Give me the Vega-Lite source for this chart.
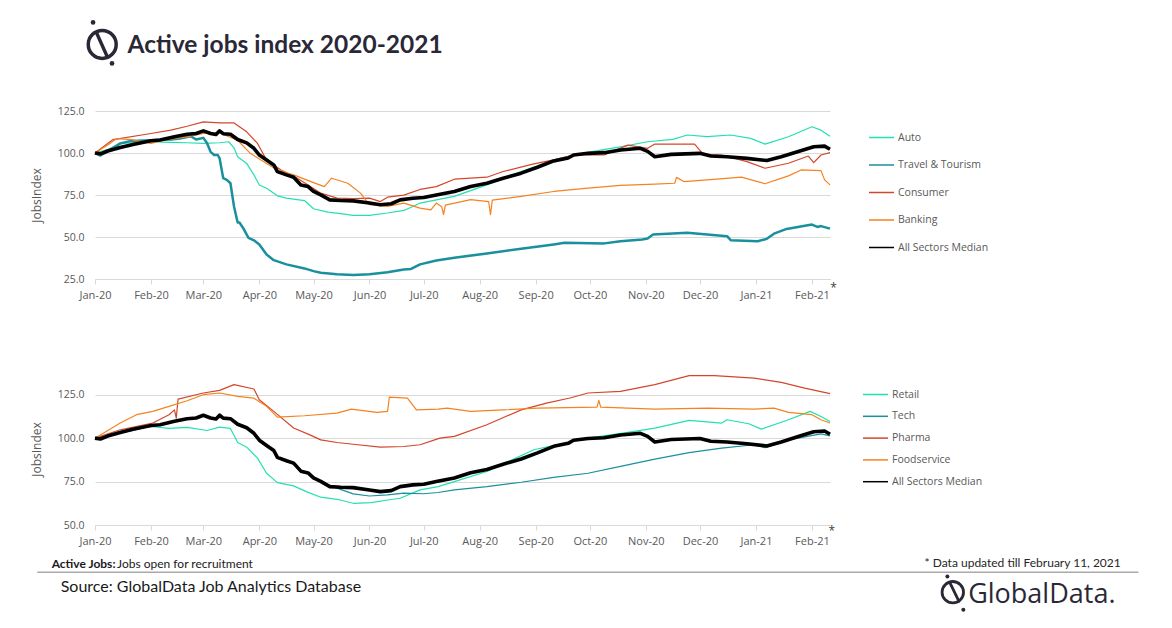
{
  "$schema": "https://vega.github.io/schema/vega-lite/v6.json",
  "background": "white",
  "padding": {"left": 30, "top": 20, "right": 10, "bottom": 10},
  "bounds": "flush",
  "spacing": 94,
  "config": {
    "view": {"stroke": null},
    "font": "Open Sans",
    "axisX": {
      "title": null, "format": "%b-%y", "tickCount": {"interval": "month", "step": 1},
      "labelColor": "#595959", "labelFontSize": 11, "labelPadding": 5, "labelOverlap": false, "labelFlush": false,
      "tickColor": "#d9d9d9", "tickSize": 5, "domainColor": "#d9d9d9", "grid": false
    },
    "axisY": {
      "format": ".1f", "domain": false, "ticks": false, "labelPadding": 11,
      "gridColor": "#d9d9d9", "labelColor": "#595959", "labelFontSize": 10.5,
      "titleColor": "#595959", "titleFontSize": 12, "titleFontWeight": "normal", "titlePadding": 14
    },
    "legend": {
      "title": null, "orient": "none", "symbolType": "stroke", "symbolSize": 625,
      "labelFontSize": 10.5, "labelColor": "#595959", "labelOffset": 3
    },
    "line": {"strokeJoin": "round"}
  },
  "resolve": {
    "scale": {"x": "independent", "y": "independent", "color": "independent"},
    "legend": {"color": "independent"}
  },
  "datasets": {
    "median": [
      {"date": "2020-01-01", "sector": "All Sectors Median", "value": 100},
      {"date": "2020-01-04", "sector": "All Sectors Median", "value": 99.5},
      {"date": "2020-01-08", "sector": "All Sectors Median", "value": 101.2},
      {"date": "2020-01-15", "sector": "All Sectors Median", "value": 103.3},
      {"date": "2020-01-22", "sector": "All Sectors Median", "value": 105.1},
      {"date": "2020-02-01", "sector": "All Sectors Median", "value": 107.3},
      {"date": "2020-02-06", "sector": "All Sectors Median", "value": 107.7},
      {"date": "2020-02-14", "sector": "All Sectors Median", "value": 109.7},
      {"date": "2020-02-21", "sector": "All Sectors Median", "value": 111.2},
      {"date": "2020-02-26", "sector": "All Sectors Median", "value": 111.6},
      {"date": "2020-03-01", "sector": "All Sectors Median", "value": 113.2},
      {"date": "2020-03-05", "sector": "All Sectors Median", "value": 111.6},
      {"date": "2020-03-08", "sector": "All Sectors Median", "value": 111},
      {"date": "2020-03-10", "sector": "All Sectors Median", "value": 113.2},
      {"date": "2020-03-12", "sector": "All Sectors Median", "value": 111.5},
      {"date": "2020-03-16", "sector": "All Sectors Median", "value": 111.2},
      {"date": "2020-03-20", "sector": "All Sectors Median", "value": 108},
      {"date": "2020-03-25", "sector": "All Sectors Median", "value": 106},
      {"date": "2020-03-29", "sector": "All Sectors Median", "value": 102.8},
      {"date": "2020-04-01", "sector": "All Sectors Median", "value": 98.8},
      {"date": "2020-04-05", "sector": "All Sectors Median", "value": 95.8},
      {"date": "2020-04-09", "sector": "All Sectors Median", "value": 92.9},
      {"date": "2020-04-11", "sector": "All Sectors Median", "value": 88.9},
      {"date": "2020-04-16", "sector": "All Sectors Median", "value": 87},
      {"date": "2020-04-20", "sector": "All Sectors Median", "value": 85.6},
      {"date": "2020-04-24", "sector": "All Sectors Median", "value": 81},
      {"date": "2020-04-28", "sector": "All Sectors Median", "value": 80},
      {"date": "2020-05-01", "sector": "All Sectors Median", "value": 77.1},
      {"date": "2020-05-05", "sector": "All Sectors Median", "value": 75.1},
      {"date": "2020-05-10", "sector": "All Sectors Median", "value": 72.1},
      {"date": "2020-05-16", "sector": "All Sectors Median", "value": 71.7},
      {"date": "2020-05-23", "sector": "All Sectors Median", "value": 71.5},
      {"date": "2020-06-01", "sector": "All Sectors Median", "value": 70.2},
      {"date": "2020-06-07", "sector": "All Sectors Median", "value": 69.2},
      {"date": "2020-06-13", "sector": "All Sectors Median", "value": 69.8},
      {"date": "2020-06-18", "sector": "All Sectors Median", "value": 72.1},
      {"date": "2020-06-25", "sector": "All Sectors Median", "value": 73.1},
      {"date": "2020-07-01", "sector": "All Sectors Median", "value": 73.5},
      {"date": "2020-07-08", "sector": "All Sectors Median", "value": 75},
      {"date": "2020-07-18", "sector": "All Sectors Median", "value": 77.1},
      {"date": "2020-07-27", "sector": "All Sectors Median", "value": 80.1},
      {"date": "2020-08-05", "sector": "All Sectors Median", "value": 82},
      {"date": "2020-08-14", "sector": "All Sectors Median", "value": 85},
      {"date": "2020-08-24", "sector": "All Sectors Median", "value": 88},
      {"date": "2020-09-02", "sector": "All Sectors Median", "value": 91.5},
      {"date": "2020-09-11", "sector": "All Sectors Median", "value": 95.3},
      {"date": "2020-09-19", "sector": "All Sectors Median", "value": 97},
      {"date": "2020-09-22", "sector": "All Sectors Median", "value": 98.8},
      {"date": "2020-09-30", "sector": "All Sectors Median", "value": 99.8},
      {"date": "2020-10-09", "sector": "All Sectors Median", "value": 100.2},
      {"date": "2020-10-18", "sector": "All Sectors Median", "value": 101.8},
      {"date": "2020-10-29", "sector": "All Sectors Median", "value": 102.8},
      {"date": "2020-11-02", "sector": "All Sectors Median", "value": 101},
      {"date": "2020-11-06", "sector": "All Sectors Median", "value": 97.8},
      {"date": "2020-11-15", "sector": "All Sectors Median", "value": 99.2},
      {"date": "2020-12-01", "sector": "All Sectors Median", "value": 99.8},
      {"date": "2020-12-07", "sector": "All Sectors Median", "value": 98.2},
      {"date": "2020-12-16", "sector": "All Sectors Median", "value": 97.8},
      {"date": "2020-12-27", "sector": "All Sectors Median", "value": 96.8},
      {"date": "2021-01-07", "sector": "All Sectors Median", "value": 95.5},
      {"date": "2021-01-15", "sector": "All Sectors Median", "value": 97.8},
      {"date": "2021-01-24", "sector": "All Sectors Median", "value": 100.8},
      {"date": "2021-02-02", "sector": "All Sectors Median", "value": 103.7},
      {"date": "2021-02-08", "sector": "All Sectors Median", "value": 104.1},
      {"date": "2021-02-11", "sector": "All Sectors Median", "value": 102.2}
    ],
    "top": [
      {"date": "2020-01-01", "sector": "Auto", "value": 100},
      {"date": "2020-01-08", "sector": "Auto", "value": 102},
      {"date": "2020-01-15", "sector": "Auto", "value": 105.7},
      {"date": "2020-02-01", "sector": "Auto", "value": 106.7},
      {"date": "2020-02-11", "sector": "Auto", "value": 106.3},
      {"date": "2020-02-21", "sector": "Auto", "value": 106.1},
      {"date": "2020-03-01", "sector": "Auto", "value": 105.7},
      {"date": "2020-03-10", "sector": "Auto", "value": 106.1},
      {"date": "2020-03-15", "sector": "Auto", "value": 106.7},
      {"date": "2020-03-18", "sector": "Auto", "value": 103},
      {"date": "2020-03-20", "sector": "Auto", "value": 97.8},
      {"date": "2020-03-25", "sector": "Auto", "value": 93.8},
      {"date": "2020-03-29", "sector": "Auto", "value": 87},
      {"date": "2020-04-01", "sector": "Auto", "value": 81},
      {"date": "2020-04-05", "sector": "Auto", "value": 79},
      {"date": "2020-04-11", "sector": "Auto", "value": 74.5},
      {"date": "2020-04-16", "sector": "Auto", "value": 73.1},
      {"date": "2020-04-26", "sector": "Auto", "value": 71.7},
      {"date": "2020-05-01", "sector": "Auto", "value": 66.8},
      {"date": "2020-05-09", "sector": "Auto", "value": 64.8},
      {"date": "2020-05-16", "sector": "Auto", "value": 63.9},
      {"date": "2020-05-23", "sector": "Auto", "value": 62.9},
      {"date": "2020-06-01", "sector": "Auto", "value": 62.9},
      {"date": "2020-06-11", "sector": "Auto", "value": 64.3},
      {"date": "2020-06-20", "sector": "Auto", "value": 65.8},
      {"date": "2020-06-25", "sector": "Auto", "value": 68.2},
      {"date": "2020-06-29", "sector": "Auto", "value": 70.2},
      {"date": "2020-07-08", "sector": "Auto", "value": 72.1},
      {"date": "2020-07-18", "sector": "Auto", "value": 74.2},
      {"date": "2020-08-05", "sector": "Auto", "value": 81},
      {"date": "2020-08-24", "sector": "Auto", "value": 89},
      {"date": "2020-09-02", "sector": "Auto", "value": 92.3},
      {"date": "2020-09-11", "sector": "Auto", "value": 95.9},
      {"date": "2020-09-22", "sector": "Auto", "value": 98.8},
      {"date": "2020-10-02", "sector": "Auto", "value": 100.8},
      {"date": "2020-10-18", "sector": "Auto", "value": 103.7},
      {"date": "2020-11-02", "sector": "Auto", "value": 106.7},
      {"date": "2020-11-16", "sector": "Auto", "value": 108.1},
      {"date": "2020-11-24", "sector": "Auto", "value": 110.7},
      {"date": "2020-12-05", "sector": "Auto", "value": 109.7},
      {"date": "2020-12-18", "sector": "Auto", "value": 110.7},
      {"date": "2020-12-29", "sector": "Auto", "value": 108.7},
      {"date": "2021-01-06", "sector": "Auto", "value": 105.3},
      {"date": "2021-01-19", "sector": "Auto", "value": 109.7},
      {"date": "2021-02-01", "sector": "Auto", "value": 115.6},
      {"date": "2021-02-06", "sector": "Auto", "value": 113.6},
      {"date": "2021-02-11", "sector": "Auto", "value": 110},

      {"date": "2020-01-01", "sector": "Travel & Tourism", "value": 100},
      {"date": "2020-01-04", "sector": "Travel & Tourism", "value": 98.5},
      {"date": "2020-01-08", "sector": "Travel & Tourism", "value": 101},
      {"date": "2020-01-15", "sector": "Travel & Tourism", "value": 105.7},
      {"date": "2020-01-21", "sector": "Travel & Tourism", "value": 107.2},
      {"date": "2020-02-01", "sector": "Travel & Tourism", "value": 107.6},
      {"date": "2020-02-12", "sector": "Travel & Tourism", "value": 108},
      {"date": "2020-02-17", "sector": "Travel & Tourism", "value": 108.6},
      {"date": "2020-02-23", "sector": "Travel & Tourism", "value": 110},
      {"date": "2020-02-26", "sector": "Travel & Tourism", "value": 108},
      {"date": "2020-03-01", "sector": "Travel & Tourism", "value": 109},
      {"date": "2020-03-03", "sector": "Travel & Tourism", "value": 106},
      {"date": "2020-03-05", "sector": "Travel & Tourism", "value": 100.7},
      {"date": "2020-03-07", "sector": "Travel & Tourism", "value": 98.8},
      {"date": "2020-03-09", "sector": "Travel & Tourism", "value": 98.8},
      {"date": "2020-03-10", "sector": "Travel & Tourism", "value": 96.8},
      {"date": "2020-03-12", "sector": "Travel & Tourism", "value": 85},
      {"date": "2020-03-14", "sector": "Travel & Tourism", "value": 84},
      {"date": "2020-03-16", "sector": "Travel & Tourism", "value": 82},
      {"date": "2020-03-18", "sector": "Travel & Tourism", "value": 68},
      {"date": "2020-03-20", "sector": "Travel & Tourism", "value": 58.6},
      {"date": "2020-03-21", "sector": "Travel & Tourism", "value": 58.6},
      {"date": "2020-03-23", "sector": "Travel & Tourism", "value": 55.4},
      {"date": "2020-03-26", "sector": "Travel & Tourism", "value": 49.5},
      {"date": "2020-03-29", "sector": "Travel & Tourism", "value": 48},
      {"date": "2020-04-01", "sector": "Travel & Tourism", "value": 45.5},
      {"date": "2020-04-05", "sector": "Travel & Tourism", "value": 39.6},
      {"date": "2020-04-09", "sector": "Travel & Tourism", "value": 36.2},
      {"date": "2020-04-16", "sector": "Travel & Tourism", "value": 33.7},
      {"date": "2020-04-26", "sector": "Travel & Tourism", "value": 31.3},
      {"date": "2020-05-01", "sector": "Travel & Tourism", "value": 29.7},
      {"date": "2020-05-05", "sector": "Travel & Tourism", "value": 28.7},
      {"date": "2020-05-14", "sector": "Travel & Tourism", "value": 27.8},
      {"date": "2020-05-23", "sector": "Travel & Tourism", "value": 27.4},
      {"date": "2020-06-01", "sector": "Travel & Tourism", "value": 27.8},
      {"date": "2020-06-11", "sector": "Travel & Tourism", "value": 29},
      {"date": "2020-06-20", "sector": "Travel & Tourism", "value": 30.7},
      {"date": "2020-06-24", "sector": "Travel & Tourism", "value": 31},
      {"date": "2020-06-29", "sector": "Travel & Tourism", "value": 33.7},
      {"date": "2020-07-08", "sector": "Travel & Tourism", "value": 36},
      {"date": "2020-07-18", "sector": "Travel & Tourism", "value": 37.7},
      {"date": "2020-08-05", "sector": "Travel & Tourism", "value": 40.2},
      {"date": "2020-08-24", "sector": "Travel & Tourism", "value": 43},
      {"date": "2020-09-11", "sector": "Travel & Tourism", "value": 45.6},
      {"date": "2020-09-17", "sector": "Travel & Tourism", "value": 46.6},
      {"date": "2020-10-09", "sector": "Travel & Tourism", "value": 46.2},
      {"date": "2020-10-18", "sector": "Travel & Tourism", "value": 47.5},
      {"date": "2020-10-30", "sector": "Travel & Tourism", "value": 48.5},
      {"date": "2020-11-02", "sector": "Travel & Tourism", "value": 49.1},
      {"date": "2020-11-05", "sector": "Travel & Tourism", "value": 51.5},
      {"date": "2020-11-24", "sector": "Travel & Tourism", "value": 52.5},
      {"date": "2020-12-05", "sector": "Travel & Tourism", "value": 51.5},
      {"date": "2020-12-16", "sector": "Travel & Tourism", "value": 50.5},
      {"date": "2020-12-18", "sector": "Travel & Tourism", "value": 48.1},
      {"date": "2021-01-02", "sector": "Travel & Tourism", "value": 47.5},
      {"date": "2021-01-07", "sector": "Travel & Tourism", "value": 48.9},
      {"date": "2021-01-11", "sector": "Travel & Tourism", "value": 52},
      {"date": "2021-01-18", "sector": "Travel & Tourism", "value": 54.8},
      {"date": "2021-02-01", "sector": "Travel & Tourism", "value": 57.4},
      {"date": "2021-02-04", "sector": "Travel & Tourism", "value": 56},
      {"date": "2021-02-06", "sector": "Travel & Tourism", "value": 56.5},
      {"date": "2021-02-11", "sector": "Travel & Tourism", "value": 55},

      {"date": "2020-01-01", "sector": "Consumer", "value": 100},
      {"date": "2020-01-11", "sector": "Consumer", "value": 108},
      {"date": "2020-02-01", "sector": "Consumer", "value": 111.6},
      {"date": "2020-02-12", "sector": "Consumer", "value": 113.6},
      {"date": "2020-02-21", "sector": "Consumer", "value": 115.9},
      {"date": "2020-03-01", "sector": "Consumer", "value": 118.5},
      {"date": "2020-03-10", "sector": "Consumer", "value": 117.9},
      {"date": "2020-03-18", "sector": "Consumer", "value": 117.9},
      {"date": "2020-03-25", "sector": "Consumer", "value": 112.6},
      {"date": "2020-03-31", "sector": "Consumer", "value": 105.7},
      {"date": "2020-04-05", "sector": "Consumer", "value": 95.8},
      {"date": "2020-04-13", "sector": "Consumer", "value": 89.9},
      {"date": "2020-04-20", "sector": "Consumer", "value": 86.3},
      {"date": "2020-04-28", "sector": "Consumer", "value": 81},
      {"date": "2020-05-05", "sector": "Consumer", "value": 76.1},
      {"date": "2020-05-14", "sector": "Consumer", "value": 73.1},
      {"date": "2020-05-23", "sector": "Consumer", "value": 72.9},
      {"date": "2020-06-01", "sector": "Consumer", "value": 73.1},
      {"date": "2020-06-07", "sector": "Consumer", "value": 71.1},
      {"date": "2020-06-11", "sector": "Consumer", "value": 73.7},
      {"date": "2020-06-20", "sector": "Consumer", "value": 74.9},
      {"date": "2020-06-29", "sector": "Consumer", "value": 78.3},
      {"date": "2020-07-08", "sector": "Consumer", "value": 80},
      {"date": "2020-07-18", "sector": "Consumer", "value": 84.4},
      {"date": "2020-08-05", "sector": "Consumer", "value": 85.6},
      {"date": "2020-08-14", "sector": "Consumer", "value": 89},
      {"date": "2020-08-31", "sector": "Consumer", "value": 93.5},
      {"date": "2020-09-11", "sector": "Consumer", "value": 95.9},
      {"date": "2020-09-22", "sector": "Consumer", "value": 98.8},
      {"date": "2020-10-09", "sector": "Consumer", "value": 98.8},
      {"date": "2020-10-22", "sector": "Consumer", "value": 104.7},
      {"date": "2020-11-02", "sector": "Consumer", "value": 102.8},
      {"date": "2020-11-06", "sector": "Consumer", "value": 105.3},
      {"date": "2020-11-28", "sector": "Consumer", "value": 105.3},
      {"date": "2020-12-03", "sector": "Consumer", "value": 99},
      {"date": "2020-12-13", "sector": "Consumer", "value": 98.8},
      {"date": "2020-12-27", "sector": "Consumer", "value": 94.9},
      {"date": "2021-01-06", "sector": "Consumer", "value": 90.9},
      {"date": "2021-01-19", "sector": "Consumer", "value": 93.9},
      {"date": "2021-01-30", "sector": "Consumer", "value": 98.2},
      {"date": "2021-02-02", "sector": "Consumer", "value": 94.3},
      {"date": "2021-02-06", "sector": "Consumer", "value": 98.8},
      {"date": "2021-02-11", "sector": "Consumer", "value": 100.2},

      {"date": "2020-01-01", "sector": "Banking", "value": 100},
      {"date": "2020-01-08", "sector": "Banking", "value": 104.7},
      {"date": "2020-01-13", "sector": "Banking", "value": 108.6},
      {"date": "2020-01-21", "sector": "Banking", "value": 108},
      {"date": "2020-02-01", "sector": "Banking", "value": 105.7},
      {"date": "2020-02-08", "sector": "Banking", "value": 107.6},
      {"date": "2020-02-21", "sector": "Banking", "value": 109.6},
      {"date": "2020-03-01", "sector": "Banking", "value": 111.6},
      {"date": "2020-03-10", "sector": "Banking", "value": 112},
      {"date": "2020-03-20", "sector": "Banking", "value": 107.6},
      {"date": "2020-03-27", "sector": "Banking", "value": 99.8},
      {"date": "2020-04-05", "sector": "Banking", "value": 93.8},
      {"date": "2020-04-11", "sector": "Banking", "value": 89.9},
      {"date": "2020-04-20", "sector": "Banking", "value": 87},
      {"date": "2020-05-01", "sector": "Banking", "value": 82.4},
      {"date": "2020-05-07", "sector": "Banking", "value": 80},
      {"date": "2020-05-11", "sector": "Banking", "value": 85},
      {"date": "2020-05-20", "sector": "Banking", "value": 82},
      {"date": "2020-05-27", "sector": "Banking", "value": 76.1},
      {"date": "2020-06-01", "sector": "Banking", "value": 69.2},
      {"date": "2020-06-11", "sector": "Banking", "value": 68.2},
      {"date": "2020-06-20", "sector": "Banking", "value": 70.2},
      {"date": "2020-06-29", "sector": "Banking", "value": 67.2},
      {"date": "2020-07-05", "sector": "Banking", "value": 66.2},
      {"date": "2020-07-08", "sector": "Banking", "value": 70.2},
      {"date": "2020-07-11", "sector": "Banking", "value": 68},
      {"date": "2020-07-12", "sector": "Banking", "value": 63.3},
      {"date": "2020-07-13", "sector": "Banking", "value": 69},
      {"date": "2020-07-27", "sector": "Banking", "value": 72.2},
      {"date": "2020-08-06", "sector": "Banking", "value": 71},
      {"date": "2020-08-07", "sector": "Banking", "value": 63.3},
      {"date": "2020-08-08", "sector": "Banking", "value": 72},
      {"date": "2020-08-24", "sector": "Banking", "value": 74.2},
      {"date": "2020-09-11", "sector": "Banking", "value": 77.1},
      {"date": "2020-09-30", "sector": "Banking", "value": 79.1},
      {"date": "2020-10-18", "sector": "Banking", "value": 80.7},
      {"date": "2020-11-06", "sector": "Banking", "value": 81.5},
      {"date": "2020-11-17", "sector": "Banking", "value": 82},
      {"date": "2020-11-18", "sector": "Banking", "value": 85.5},
      {"date": "2020-11-22", "sector": "Banking", "value": 83},
      {"date": "2020-12-05", "sector": "Banking", "value": 84},
      {"date": "2020-12-24", "sector": "Banking", "value": 85.6},
      {"date": "2021-01-06", "sector": "Banking", "value": 81.7},
      {"date": "2021-01-19", "sector": "Banking", "value": 86.4},
      {"date": "2021-01-26", "sector": "Banking", "value": 89.9},
      {"date": "2021-02-06", "sector": "Banking", "value": 89.5},
      {"date": "2021-02-08", "sector": "Banking", "value": 84},
      {"date": "2021-02-11", "sector": "Banking", "value": 81}
    ],
    "bottom": [
      {"date": "2020-01-01", "sector": "Retail", "value": 100},
      {"date": "2020-01-15", "sector": "Retail", "value": 103.8},
      {"date": "2020-02-01", "sector": "Retail", "value": 106.7},
      {"date": "2020-02-11", "sector": "Retail", "value": 105.6},
      {"date": "2020-02-21", "sector": "Retail", "value": 106.2},
      {"date": "2020-03-03", "sector": "Retail", "value": 104.4},
      {"date": "2020-03-10", "sector": "Retail", "value": 106.3},
      {"date": "2020-03-16", "sector": "Retail", "value": 105.6},
      {"date": "2020-03-20", "sector": "Retail", "value": 97.5},
      {"date": "2020-03-25", "sector": "Retail", "value": 94.8},
      {"date": "2020-03-31", "sector": "Retail", "value": 88.5},
      {"date": "2020-04-05", "sector": "Retail", "value": 79.8},
      {"date": "2020-04-11", "sector": "Retail", "value": 74.4},
      {"date": "2020-04-20", "sector": "Retail", "value": 72.5},
      {"date": "2020-04-27", "sector": "Retail", "value": 69.2},
      {"date": "2020-05-05", "sector": "Retail", "value": 66},
      {"date": "2020-05-14", "sector": "Retail", "value": 64.8},
      {"date": "2020-05-23", "sector": "Retail", "value": 62.5},
      {"date": "2020-06-02", "sector": "Retail", "value": 62.9},
      {"date": "2020-06-11", "sector": "Retail", "value": 64.4},
      {"date": "2020-06-18", "sector": "Retail", "value": 65.4},
      {"date": "2020-06-29", "sector": "Retail", "value": 70.2},
      {"date": "2020-07-09", "sector": "Retail", "value": 72.1},
      {"date": "2020-07-18", "sector": "Retail", "value": 75},
      {"date": "2020-08-05", "sector": "Retail", "value": 80.8},
      {"date": "2020-08-31", "sector": "Retail", "value": 93.3},
      {"date": "2020-09-30", "sector": "Retail", "value": 100},
      {"date": "2020-10-22", "sector": "Retail", "value": 103.3},
      {"date": "2020-11-06", "sector": "Retail", "value": 105.8},
      {"date": "2020-11-25", "sector": "Retail", "value": 110.2},
      {"date": "2020-12-13", "sector": "Retail", "value": 108.7},
      {"date": "2020-12-16", "sector": "Retail", "value": 110.6},
      {"date": "2020-12-28", "sector": "Retail", "value": 108.3},
      {"date": "2021-01-04", "sector": "Retail", "value": 105.2},
      {"date": "2021-01-19", "sector": "Retail", "value": 110.6},
      {"date": "2021-01-31", "sector": "Retail", "value": 115.4},
      {"date": "2021-02-06", "sector": "Retail", "value": 112.5},
      {"date": "2021-02-11", "sector": "Retail", "value": 109.6},

      {"date": "2020-01-01", "sector": "Tech", "value": 100},
      {"date": "2020-01-08", "sector": "Tech", "value": 101},
      {"date": "2020-01-15", "sector": "Tech", "value": 103},
      {"date": "2020-01-22", "sector": "Tech", "value": 104.5},
      {"date": "2020-02-01", "sector": "Tech", "value": 107},
      {"date": "2020-02-14", "sector": "Tech", "value": 109.5},
      {"date": "2020-02-21", "sector": "Tech", "value": 111},
      {"date": "2020-03-01", "sector": "Tech", "value": 112.8},
      {"date": "2020-03-05", "sector": "Tech", "value": 111.3},
      {"date": "2020-03-10", "sector": "Tech", "value": 112},
      {"date": "2020-03-16", "sector": "Tech", "value": 111},
      {"date": "2020-03-20", "sector": "Tech", "value": 107.8},
      {"date": "2020-03-25", "sector": "Tech", "value": 105.7},
      {"date": "2020-03-29", "sector": "Tech", "value": 102.5},
      {"date": "2020-04-01", "sector": "Tech", "value": 98.5},
      {"date": "2020-04-05", "sector": "Tech", "value": 95.5},
      {"date": "2020-04-09", "sector": "Tech", "value": 92.5},
      {"date": "2020-04-11", "sector": "Tech", "value": 88.5},
      {"date": "2020-04-16", "sector": "Tech", "value": 86.5},
      {"date": "2020-04-20", "sector": "Tech", "value": 85},
      {"date": "2020-04-24", "sector": "Tech", "value": 80.5},
      {"date": "2020-04-28", "sector": "Tech", "value": 79.5},
      {"date": "2020-05-01", "sector": "Tech", "value": 76.5},
      {"date": "2020-05-05", "sector": "Tech", "value": 75},
      {"date": "2020-05-14", "sector": "Tech", "value": 71.2},
      {"date": "2020-05-23", "sector": "Tech", "value": 67.9},
      {"date": "2020-06-01", "sector": "Tech", "value": 66.7},
      {"date": "2020-06-11", "sector": "Tech", "value": 67.3},
      {"date": "2020-06-20", "sector": "Tech", "value": 68.3},
      {"date": "2020-07-01", "sector": "Tech", "value": 68},
      {"date": "2020-07-09", "sector": "Tech", "value": 68.7},
      {"date": "2020-07-18", "sector": "Tech", "value": 70.2},
      {"date": "2020-08-05", "sector": "Tech", "value": 72.1},
      {"date": "2020-08-24", "sector": "Tech", "value": 74.6},
      {"date": "2020-09-11", "sector": "Tech", "value": 77.4},
      {"date": "2020-09-30", "sector": "Tech", "value": 79.8},
      {"date": "2020-10-18", "sector": "Tech", "value": 83.7},
      {"date": "2020-11-06", "sector": "Tech", "value": 87.9},
      {"date": "2020-11-25", "sector": "Tech", "value": 91.7},
      {"date": "2020-12-13", "sector": "Tech", "value": 94.2},
      {"date": "2020-12-31", "sector": "Tech", "value": 96.2},
      {"date": "2021-01-06", "sector": "Tech", "value": 94.5},
      {"date": "2021-01-19", "sector": "Tech", "value": 99},
      {"date": "2021-02-06", "sector": "Tech", "value": 102.5},
      {"date": "2021-02-11", "sector": "Tech", "value": 101.3},

      {"date": "2020-01-01", "sector": "Pharma", "value": 100},
      {"date": "2020-01-15", "sector": "Pharma", "value": 104.8},
      {"date": "2020-02-02", "sector": "Pharma", "value": 108.7},
      {"date": "2020-02-11", "sector": "Pharma", "value": 113.5},
      {"date": "2020-02-14", "sector": "Pharma", "value": 116.3},
      {"date": "2020-02-15", "sector": "Pharma", "value": 111.5},
      {"date": "2020-02-16", "sector": "Pharma", "value": 122.5},
      {"date": "2020-03-01", "sector": "Pharma", "value": 126},
      {"date": "2020-03-10", "sector": "Pharma", "value": 127.5},
      {"date": "2020-03-18", "sector": "Pharma", "value": 130.8},
      {"date": "2020-03-29", "sector": "Pharma", "value": 128.3},
      {"date": "2020-04-01", "sector": "Pharma", "value": 122.1},
      {"date": "2020-04-09", "sector": "Pharma", "value": 115.4},
      {"date": "2020-04-20", "sector": "Pharma", "value": 105.8},
      {"date": "2020-04-29", "sector": "Pharma", "value": 101.9},
      {"date": "2020-05-05", "sector": "Pharma", "value": 99},
      {"date": "2020-05-14", "sector": "Pharma", "value": 97.5},
      {"date": "2020-05-23", "sector": "Pharma", "value": 96.5},
      {"date": "2020-06-07", "sector": "Pharma", "value": 94.8},
      {"date": "2020-06-20", "sector": "Pharma", "value": 95.2},
      {"date": "2020-06-29", "sector": "Pharma", "value": 96.2},
      {"date": "2020-07-10", "sector": "Pharma", "value": 100},
      {"date": "2020-07-18", "sector": "Pharma", "value": 101},
      {"date": "2020-08-05", "sector": "Pharma", "value": 107.7},
      {"date": "2020-08-24", "sector": "Pharma", "value": 116.3},
      {"date": "2020-09-07", "sector": "Pharma", "value": 120.2},
      {"date": "2020-09-20", "sector": "Pharma", "value": 123.1},
      {"date": "2020-09-30", "sector": "Pharma", "value": 126},
      {"date": "2020-10-18", "sector": "Pharma", "value": 126.9},
      {"date": "2020-11-06", "sector": "Pharma", "value": 130.8},
      {"date": "2020-11-25", "sector": "Pharma", "value": 136},
      {"date": "2020-12-09", "sector": "Pharma", "value": 136},
      {"date": "2020-12-31", "sector": "Pharma", "value": 134.6},
      {"date": "2021-01-15", "sector": "Pharma", "value": 132.1},
      {"date": "2021-01-28", "sector": "Pharma", "value": 128.8},
      {"date": "2021-02-11", "sector": "Pharma", "value": 125.6},

      {"date": "2020-01-01", "sector": "Foodservice", "value": 100},
      {"date": "2020-01-15", "sector": "Foodservice", "value": 108.7},
      {"date": "2020-01-24", "sector": "Foodservice", "value": 113.5},
      {"date": "2020-02-02", "sector": "Foodservice", "value": 115.4},
      {"date": "2020-02-11", "sector": "Foodservice", "value": 118.3},
      {"date": "2020-02-21", "sector": "Foodservice", "value": 121.5},
      {"date": "2020-03-01", "sector": "Foodservice", "value": 125},
      {"date": "2020-03-10", "sector": "Foodservice", "value": 126},
      {"date": "2020-03-20", "sector": "Foodservice", "value": 124},
      {"date": "2020-03-29", "sector": "Foodservice", "value": 123},
      {"date": "2020-04-05", "sector": "Foodservice", "value": 118.3},
      {"date": "2020-04-11", "sector": "Foodservice", "value": 112.1},
      {"date": "2020-04-26", "sector": "Foodservice", "value": 112.9},
      {"date": "2020-05-14", "sector": "Foodservice", "value": 114.4},
      {"date": "2020-05-22", "sector": "Foodservice", "value": 116.7},
      {"date": "2020-06-05", "sector": "Foodservice", "value": 114.8},
      {"date": "2020-06-11", "sector": "Foodservice", "value": 115.4},
      {"date": "2020-06-12", "sector": "Foodservice", "value": 123.6},
      {"date": "2020-06-22", "sector": "Foodservice", "value": 123},
      {"date": "2020-06-27", "sector": "Foodservice", "value": 116.3},
      {"date": "2020-07-09", "sector": "Foodservice", "value": 116.7},
      {"date": "2020-07-14", "sector": "Foodservice", "value": 117.3},
      {"date": "2020-07-27", "sector": "Foodservice", "value": 115.4},
      {"date": "2020-08-14", "sector": "Foodservice", "value": 116.3},
      {"date": "2020-09-02", "sector": "Foodservice", "value": 117.3},
      {"date": "2020-10-05", "sector": "Foodservice", "value": 117.9},
      {"date": "2020-10-06", "sector": "Foodservice", "value": 121.7},
      {"date": "2020-10-07", "sector": "Foodservice", "value": 117.9},
      {"date": "2020-11-06", "sector": "Foodservice", "value": 116.7},
      {"date": "2020-12-05", "sector": "Foodservice", "value": 117.3},
      {"date": "2020-12-31", "sector": "Foodservice", "value": 116.7},
      {"date": "2021-01-11", "sector": "Foodservice", "value": 117.3},
      {"date": "2021-01-19", "sector": "Foodservice", "value": 114.8},
      {"date": "2021-02-01", "sector": "Foodservice", "value": 113.5},
      {"date": "2021-02-06", "sector": "Foodservice", "value": 110.6},
      {"date": "2021-02-11", "sector": "Foodservice", "value": 108.7}
    ]
  },
  "vconcat": [
    {
      "width": 735,
      "height": 168,
      "layer": [
        {
          "data": {"name": "top"},
          "mark": {"type": "line"},
          "encoding": {
            "x": {"field": "date", "type": "temporal", "scale": {"domain": [{"year": 2020, "month": 1, "date": 1}, {"year": 2021, "month": 2, "date": 11}], "nice": false}},
            "y": {"field": "value", "type": "quantitative", "scale": {"domain": [25, 125], "nice": false, "zero": false}, "axis": {"title": "JobsIndex", "values": [25, 50, 75, 100, 125]}},
            "color": {
              "field": "sector", "type": "nominal",
              "scale": {"domain": ["Auto", "Travel & Tourism", "Consumer", "Banking", "All Sectors Median"], "range": ["#22e0b0", "#1a8f9e", "#d4462b", "#f5821f", "#000000"]},
              "legend": {
                "legendX": 773, "legendY": 13, "rowPadding": 8.5,
                "encode": {"symbols": {"update": {"strokeWidth": {"signal": "datum.value === 'Travel & Tourism' ? 3 : datum.value === 'All Sectors Median' ? 4 : 1.5"}}}}
              }
            },
            "strokeWidth": {
              "field": "sector", "type": "nominal",
              "scale": {"type": "ordinal", "domain": ["Auto", "Travel & Tourism", "Consumer", "Banking"], "range": [1.2, 2.5, 1.2, 1.2]},
              "legend": null
            }
          }
        },
        {
          "data": {"name": "median"},
          "mark": {"type": "line", "color": "#000000", "strokeWidth": 3.6},
          "encoding": {
            "x": {"field": "date", "type": "temporal"},
            "y": {"field": "value", "type": "quantitative"}
          }
        },
        {
          "data": {"values": [{}]},
          "mark": {"type": "text", "text": "Active jobs index 2020-2021", "align": "left", "baseline": "alphabetic", "font": "Lato", "fontSize": 24.5, "fontWeight": "bold", "color": "#2a2837"},
          "encoding": {"x": {"datum": {"year": 2020, "month": 1, "date": 19}, "type": "temporal"}, "y": {"datum": 159.3, "type": "quantitative"}}
        },
        {
          "data": {"values": [{}]},
          "mark": {"type": "point", "shape": "circle", "filled": false, "stroke": "#2a2837", "strokeWidth": 3.5, "size": 780, "opacity": 1},
          "encoding": {"x": {"datum": {"year": 2020, "month": 1, "date": 5}, "type": "temporal"}, "y": {"datum": 164.6, "type": "quantitative"}}
        },
        {
          "data": {"values": [{}]},
          "mark": {"type": "rule", "stroke": "#2a2837", "strokeWidth": 3.5, "strokeCap": "round"},
          "encoding": {
            "x": {"datum": {"year": 2020, "month": 1, "date": 2}, "type": "temporal"},
            "x2": {"datum": {"year": 2020, "month": 1, "date": 7, "hours": 17}},
            "y": {"datum": 171.2, "type": "quantitative"},
            "y2": {"datum": 157.5}
          }
        },
        {
          "data": {"values": [{}]},
          "mark": {"type": "point", "shape": "circle", "filled": true, "color": "#2a2837", "size": 22, "opacity": 1},
          "encoding": {"x": {"datum": {"year": 2019, "month": 12, "date": 30, "hours": 22}, "type": "temporal"}, "y": {"datum": 177.7, "type": "quantitative"}}
        },
        {
          "data": {"values": [{}]},
          "mark": {"type": "point", "shape": "circle", "filled": true, "color": "#2a2837", "size": 22, "opacity": 1},
          "encoding": {"x": {"datum": {"year": 2020, "month": 1, "date": 10, "hours": 10}, "type": "temporal"}, "y": {"datum": 153.3, "type": "quantitative"}}
        },
        {
          "data": {"values": [{}]},
          "mark": {"type": "text", "text": "*", "align": "center", "baseline": "middle", "fontSize": 12, "color": "#404040"},
          "encoding": {"x": {"datum": {"year": 2021, "month": 2, "date": 13}, "type": "temporal"}, "y": {"datum": 19.5, "type": "quantitative"}}
        }
      ]
    },
    {
      "width": 735,
      "height": 152,
      "layer": [
        {
          "data": {"name": "bottom"},
          "mark": {"type": "line"},
          "encoding": {
            "x": {"field": "date", "type": "temporal", "scale": {"domain": [{"year": 2020, "month": 1, "date": 1}, {"year": 2021, "month": 2, "date": 11}], "nice": false}},
            "y": {"field": "value", "type": "quantitative", "scale": {"domain": [50, 137.5], "nice": false, "zero": false}, "axis": {"title": "JobsIndex", "values": [50, 75, 100, 125]}},
            "color": {
              "field": "sector", "type": "nominal",
              "scale": {"domain": ["Retail", "Tech", "Pharma", "Foodservice", "All Sectors Median"], "range": ["#22e0b0", "#1a8f9e", "#d4462b", "#f5821f", "#000000"]},
              "legend": {
                "legendX": 767, "legendY": 8, "rowPadding": 2.8,
                "encode": {"symbols": {"update": {"strokeWidth": {"signal": "datum.value === 'All Sectors Median' ? 4 : 1.5"}}}}
              }
            },
            "strokeWidth": {"value": 1.2}
          }
        },
        {
          "data": {"name": "median"},
          "mark": {"type": "line", "color": "#000000", "strokeWidth": 3.6},
          "encoding": {
            "x": {"field": "date", "type": "temporal"},
            "y": {"field": "value", "type": "quantitative"}
          }
        },
        {
          "data": {"values": [{}]},
          "mark": {"type": "text", "text": "*", "align": "center", "baseline": "middle", "fontSize": 12, "color": "#404040"},
          "encoding": {"x": {"datum": {"year": 2021, "month": 2, "date": 12}, "type": "temporal"}, "y": {"datum": 46.5, "type": "quantitative"}}
        },
        {
          "data": {"values": [{}]},
          "mark": {"type": "text", "text": "Active Jobs:", "align": "left", "baseline": "alphabetic", "font": "Lato", "fontSize": 12, "fontWeight": "bold", "color": "#1a1a1a"},
          "encoding": {"x": {"datum": {"year": 2019, "month": 12, "date": 8}, "type": "temporal"}, "y": {"datum": 25.2, "type": "quantitative"}}
        },
        {
          "data": {"values": [{}]},
          "mark": {"type": "text", "text": "Jobs open for recruitment", "align": "left", "baseline": "alphabetic", "font": "Lato", "fontSize": 12, "color": "#1a1a1a"},
          "encoding": {"x": {"datum": {"year": 2020, "month": 1, "date": 13, "hours": 5}, "type": "temporal"}, "y": {"datum": 25.2, "type": "quantitative"}}
        },
        {
          "data": {"values": [{}]},
          "mark": {"type": "text", "text": "* Data updated till February 11, 2021", "align": "right", "baseline": "alphabetic", "font": "Lato", "fontSize": 12, "color": "#262626"},
          "encoding": {"x": {"datum": {"year": 2021, "month": 7, "date": 22}, "type": "temporal"}, "y": {"datum": 25.7, "type": "quantitative"}}
        },
        {
          "data": {"values": [{}]},
          "mark": {"type": "rule", "stroke": "#7f7f7f", "strokeWidth": 1},
          "encoding": {
            "x": {"datum": {"year": 2019, "month": 11, "date": 30}, "type": "temporal"},
            "x2": {"datum": {"year": 2021, "month": 7, "date": 31, "hours": 19}},
            "y": {"datum": 22.85, "type": "quantitative"}
          }
        },
        {
          "data": {"values": [{}]},
          "mark": {"type": "text", "text": "Source: GlobalData Job Analytics Database", "align": "left", "baseline": "alphabetic", "font": "Lato", "fontSize": 16, "color": "#1a1a1a"},
          "encoding": {"x": {"datum": {"year": 2019, "month": 12, "date": 13}, "type": "temporal"}, "y": {"datum": 11.3, "type": "quantitative"}}
        },
        {
          "data": {"values": [{}]},
          "mark": {"type": "point", "shape": "circle", "filled": false, "stroke": "#2a2837", "strokeWidth": 2.8, "size": 460, "opacity": 1},
          "encoding": {"x": {"datum": {"year": 2021, "month": 4, "date": 20}, "type": "temporal"}, "y": {"datum": 11.3, "type": "quantitative"}}
        },
        {
          "data": {"values": [{}]},
          "mark": {"type": "rule", "stroke": "#2a2837", "strokeWidth": 2.8, "strokeCap": "round"},
          "encoding": {
            "x": {"datum": {"year": 2021, "month": 4, "date": 18, "hours": 12}, "type": "temporal"},
            "x2": {"datum": {"year": 2021, "month": 4, "date": 23, "hours": 10}},
            "y": {"datum": 16.5, "type": "quantitative"},
            "y2": {"datum": 6.1}
          }
        },
        {
          "data": {"values": [{}]},
          "mark": {"type": "point", "shape": "circle", "filled": true, "color": "#2a2837", "size": 16, "opacity": 1},
          "encoding": {"x": {"datum": {"year": 2021, "month": 4, "date": 17, "hours": 0}, "type": "temporal"}, "y": {"datum": 20.4, "type": "quantitative"}}
        },
        {
          "data": {"values": [{}]},
          "mark": {"type": "point", "shape": "circle", "filled": true, "color": "#2a2837", "size": 16, "opacity": 1},
          "encoding": {"x": {"datum": {"year": 2021, "month": 4, "date": 25, "hours": 20}, "type": "temporal"}, "y": {"datum": 1.2, "type": "quantitative"}}
        },
        {
          "data": {"values": [{}]},
          "mark": {"type": "text", "text": "GlobalData.", "align": "left", "baseline": "alphabetic", "font": "Open Sans", "fontSize": 27, "color": "#2a2837"},
          "encoding": {"x": {"datum": {"year": 2021, "month": 4, "date": 28, "hours": 12}, "type": "temporal"}, "y": {"datum": 5.0, "type": "quantitative"}}
        }
      ]
    }
  ]
}
